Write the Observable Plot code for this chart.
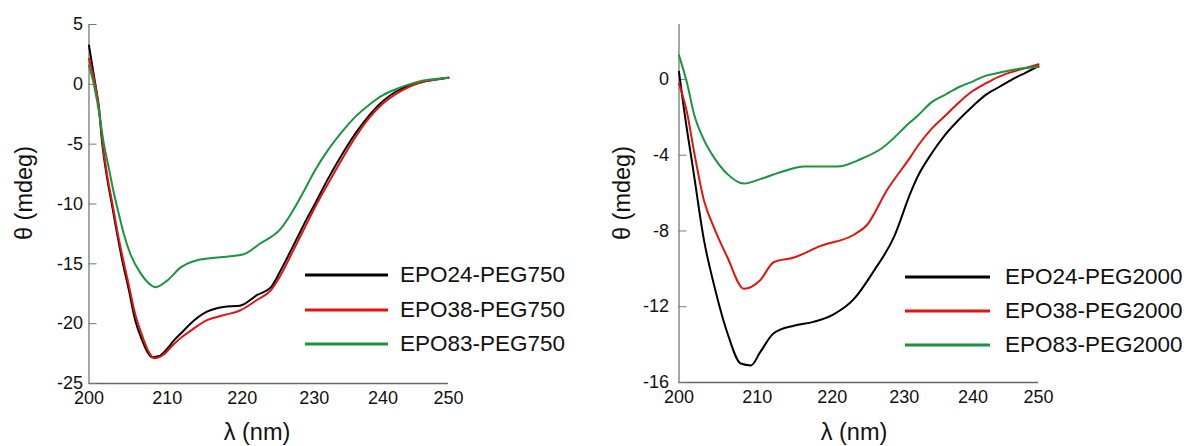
<!DOCTYPE html>
<html><head><meta charset="utf-8">
<script src="https://cdn.jsdelivr.net/npm/d3@7"></script>
<script src="https://cdn.jsdelivr.net/npm/@observablehq/plot@0.6"></script>
<style>
body{margin:0;background:#fff;font-family:"Liberation Sans",Arial,sans-serif;}
#wrap{position:relative;width:1198px;height:446px;overflow:hidden;background:#fff}
.panel{position:absolute;top:0}
.t{position:absolute;font-size:23.5px;line-height:1;color:#111;white-space:nowrap;transform:translate(-50%,-50%)}
.t.rot{transform:translate(-50%,-50%) rotate(-90deg)}
.lg{position:absolute;font-size:22.5px;line-height:1;color:#111;white-space:nowrap;transform:translateY(-50%)}
.sw{position:absolute;height:3px;transform:translateY(-50%)}
</style>
</head><body>
<div id="wrap"></div>
<script>
// ---- data ----
const xTicks = [200, 210, 220, 230, 240, 250];
const leftYTicks = [-25, -20, -15, -10, -5, 0, 5];
const rightYTicks = [-16, -12, -8, -4, 0];
const leftNames = ["EPO24-PEG750", "EPO38-PEG750", "EPO83-PEG750"];
const rightNames = ["EPO24-PEG2000", "EPO38-PEG2000", "EPO83-PEG2000"];
const seriesColors = ["#000000", "#e3140e", "#1a9440"];

// left panel, EPO24-PEG750
const l24Wl = [200, 200.8, 201.25, 201.7, 202.3, 203.0, 203.6, 204.25, 205.1, 205.9, 206.8, 207.5, 208.1, 209.0, 210.0, 210.9, 212.0, 213.1, 215.3, 217.5, 219.7, 222.1, 224.0, 225.3, 227, 228, 229, 230, 232, 234, 236, 238, 240, 242, 244, 246, 248, 250];
const l24Th = [3.24, 0.04, -1.9, -4.97, -7.76, -10.3, -12.5, -14.7, -17.2, -19.7, -21.4, -22.4, -22.8, -22.7, -22.1, -21.4, -20.7, -20.0, -19.0, -18.6, -18.5, -17.6, -16.95, -15.6, -13.6, -12.4, -11.2, -10.1, -7.9, -5.9, -4.1, -2.6, -1.4, -0.6, -0.1, 0.2, 0.4, 0.55];
// left panel, EPO38-PEG750
const l38Wl = [200, 200.8, 201.25, 201.7, 202.3, 203.0, 203.6, 204.25, 205.1, 205.9, 206.8, 207.6, 208.4, 209.5, 210.9, 212.0, 213.1, 215.3, 217.5, 219.7, 222.1, 224.0, 225.3, 227, 228, 229, 230, 232, 234, 236, 238, 240, 242, 244, 246, 248, 250];
const l38Th = [2.13, -0.1, -1.8, -4.7, -7.5, -10.0, -12.2, -14.3, -16.8, -19.2, -21.0, -22.3, -22.9, -22.6, -21.7, -21.1, -20.6, -19.7, -19.3, -18.9, -18.0, -17.2, -16.0, -14.0, -12.8, -11.6, -10.4, -8.3, -6.3, -4.4, -2.8, -1.6, -0.8, -0.2, 0.2, 0.4, 0.55];
// left panel, EPO83-PEG750
const l83Wl = [200, 200.6, 201.25, 201.9, 202.5, 203.2, 203.8, 204.45, 205.3, 206.6, 207.6, 208.5, 210.0, 211.8, 214.0, 217.1, 220.2, 222.5, 225.3, 227, 228.5, 230, 232, 234, 236, 238, 240, 242, 244, 246, 248, 250];
const l83Th = [1.57, 0.04, -2.19, -4.97, -6.9, -9.15, -10.8, -12.5, -14.2, -15.8, -16.6, -16.95, -16.4, -15.3, -14.7, -14.45, -14.2, -13.3, -12.1, -10.6, -9.0, -7.3, -5.5, -4.0, -2.7, -1.7, -0.9, -0.4, 0.0, 0.3, 0.45, 0.55];

// right panel, EPO24-PEG2000
const r24Wl = [200, 200.6, 201.9, 203.2, 204.45, 206.2, 207.9, 209.2, 210.4, 212.2, 214.9, 217.5, 220.2, 223.0, 225.8, 228.6, 230.9, 232, 234, 236, 238, 240, 242, 244, 246, 248, 250];
const r24Th = [0.4, -1.46, -5.0, -8.5, -10.8, -13.4, -15.0, -15.1, -14.4, -13.4, -13.0, -12.8, -12.4, -11.6, -10.1, -8.3, -6.0, -5.1, -3.9, -2.9, -2.1, -1.4, -0.8, -0.4, 0.0, 0.35, 0.7];
// right panel, EPO38-PEG2000
const r38Wl = [200, 201.05, 201.9, 203.2, 204.45, 206.2, 208.3, 210.4, 212.2, 214.9, 218.4, 223.0, 224.8, 227.6, 230.9, 232, 234, 236, 238, 240, 242, 244, 246, 248, 250];
const r38Th = [-0.23, -1.8, -3.75, -6.4, -7.8, -9.4, -11.05, -10.6, -9.65, -9.4, -8.8, -8.2, -7.7, -5.85, -4.1, -3.5, -2.6, -1.9, -1.2, -0.6, -0.2, 0.15, 0.4, 0.6, 0.8];
// right panel, EPO83-PEG2000
const r83Wl = [200, 201.05, 201.9, 203.2, 204.45, 206.2, 208.3, 210.5, 213.1, 216.3, 220.7, 224.0, 226.8, 230.9, 232, 234, 236, 238, 240, 242, 244, 246, 248, 250];
const r83Th = [1.27, -0.23, -1.8, -3.2, -4.1, -5.0, -5.5, -5.25, -4.9, -4.6, -4.6, -4.2, -3.66, -2.25, -1.9, -1.2, -0.8, -0.4, -0.1, 0.2, 0.35, 0.5, 0.6, 0.65];

// ---- build ----
function rows(names, pairs) {
  const out = [];
  pairs.forEach(([wl, th], i) => wl.forEach((w, j) => out.push({series: names[i], wl: w, theta: th[j]})));
  return out;
}
const leftData = rows(leftNames, [[l24Wl, l24Th], [l38Wl, l38Th], [l83Wl, l83Th]]);
const rightData = rows(rightNames, [[r24Wl, r24Th], [r38Wl, r38Th], [r83Wl, r83Th]]);

// the original axis has slightly uneven tick spacing; reproduce it with a piecewise transform
const xTickPos = [88.5, 166.7, 241.7, 313.7, 382.5, 448];
const xPiece = d3.scaleLinear().domain(xTicks).range(xTickPos);

function panel({data, names, yDomain, yTicks, marginBottom, pad}) {
  return Plot.plot({
    width: 608, height: 446,
    marginTop: 24, marginBottom, marginLeft: 88.5, marginRight: 160,
    style: {fontFamily: "'Liberation Sans', Arial, sans-serif", fontSize: "18px", color: "#111", background: "transparent", overflow: "visible"},
    x: {transform: v => xPiece(v), domain: [xTickPos[0], xTickPos[xTickPos.length - 1]], range: [xTickPos[0], xTickPos[xTickPos.length - 1]]},
    y: {domain: yDomain},
    color: {domain: names, range: seriesColors},
    marks: [
      Plot.ruleX([200], {stroke: "#777", strokeWidth: 1.3}),
      Plot.ruleY([yDomain[0]], {stroke: "#666", strokeWidth: 1.3}),
      Plot.axisY(yTicks, {tickSize: 8, dx: 8, tickFormat: () => "", stroke: "#777", label: null}),
      Plot.axisY(yTicks, {tickSize: 0, tickPadding: pad, tickFormat: d => String(d), label: null, fill: "#111"}),
      Plot.axisX(xTicks, {tickSize: 0, tickPadding: 8, tickFormat: d => String(d), label: null, fill: "#111"}),
      Plot.line(data, {x: "wl", y: "theta", z: "series", stroke: "series", curve: "monotone-x", strokeWidth: 2})
    ]
  });
}

const wrap = document.getElementById("wrap");
function place(node, left) { const d = document.createElement("div"); d.className = "panel"; d.style.left = left + "px"; d.appendChild(node); wrap.appendChild(d); }
place(panel({data: leftData, names: leftNames, yDomain: [-25, 5], yTicks: leftYTicks, marginBottom: 63, pad: 6}), 0);
place(panel({data: rightData, names: rightNames, yDomain: [-16, 2.9], yTicks: rightYTicks, marginBottom: 64, pad: 10}), 590);

function text(cls, str, x, y) { const d = document.createElement("div"); d.className = cls; d.textContent = str; d.style.left = x + "px"; d.style.top = y + "px"; wrap.appendChild(d); }
text("t rot", "θ (mdeg)", 25, 193);
text("t rot", "θ (mdeg)", 623, 193);
text("t", "λ (nm)", 257, 433);
text("t", "λ (nm)", 854, 433);

function legend(names, x0, x1, tx, ys) {
  names.forEach((n, i) => {
    const s = document.createElement("div"); s.className = "sw";
    s.style.left = x0 + "px"; s.style.width = (x1 - x0) + "px"; s.style.top = ys[i] + "px"; s.style.background = seriesColors[i];
    wrap.appendChild(s);
    text("lg", n, tx, ys[i]);
  });
}
legend(leftNames, 305, 388, 400, [275, 310, 344]);
legend(rightNames, 905, 990, 1005, [277, 311, 345]);
</script>
</body></html>
